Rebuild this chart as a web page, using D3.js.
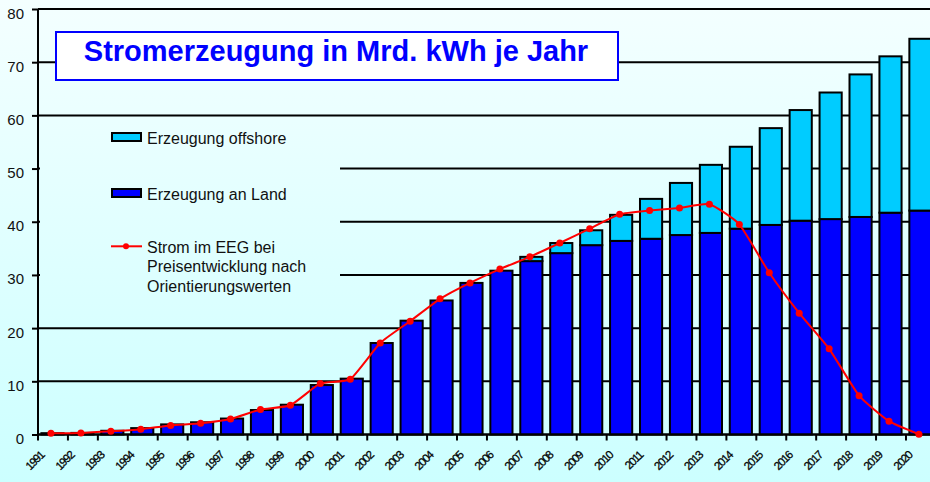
<!DOCTYPE html>
<html>
<head>
<meta charset="utf-8">
<script src="https://cdn.jsdelivr.net/npm/d3@7"></script>
<style>
  html, body { margin: 0; padding: 0; }
  svg { display: block; }
  text { font-family: "Liberation Sans", Arial, sans-serif; }
</style>
</head>
<body>
<svg id="chart" width="930" height="482"></svg>
<script>
// ---- data ----
const years = ["1991","1992","1993","1994","1995","1996","1997","1998","1999","2000",
               "2001","2002","2003","2004","2005","2006","2007","2008","2009","2010",
               "2011","2012","2013","2014","2015","2016","2017","2018","2019","2020"];
const landValues = [0.25,0.3,0.7,1.2,1.9,2.3,3.0,4.6,5.6,9.3,
                    10.5,17.2,21.4,25.2,28.5,30.8,32.6,34.1,35.6,36.4,
                    36.8,37.5,37.9,38.7,39.4,40.2,40.5,40.9,41.7,42.1];
const offshoreValues = [0,0,0,0,0,0,0,0,0,0,
                        0,0,0,0,0,0,0.8,1.9,2.8,4.9,
                        7.5,9.8,12.8,15.4,18.2,20.8,23.8,26.8,29.4,32.3];
const eegValues = [0.25,0.3,0.6,1.0,1.7,2.1,2.9,4.7,5.5,9.6,
                   10.4,17.2,21.3,25.5,28.5,31.1,33.4,36.0,38.7,41.4,
                   42.1,42.6,43.3,39.5,30.4,22.8,16.1,7.3,2.5,0.05];
const yTicks = [0,10,20,30,40,50,60,70,80];
const titleText = "Stromerzeugung in Mrd. kWh je Jahr";
const legendOffshore = "Erzeugung offshore";
const legendLand = "Erzeugung an Land";
const legendLine = ["Strom im EEG bei", "Preisentwicklung nach", "Orientierungswerten"];

// ---- setup ----
const W = 930, H = 482;
const svg = d3.select("#chart");
const defs = svg.append("defs");
const grad = defs.append("linearGradient").attr("id","bg")
  .attr("gradientUnits","userSpaceOnUse")
  .attr("x1",0).attr("y1",0).attr("x2",0).attr("y2",H);
grad.append("stop").attr("offset","0").attr("stop-color","#f4ffff");
grad.append("stop").attr("offset","1").attr("stop-color","#ccffff");

svg.append("rect").attr("width",W).attr("height",H).attr("fill","url(#bg)");

const x0 = 38, step = 29.93;
const x = d3.scaleBand().domain(years).range([x0, x0 + step*years.length]).paddingInner(0).paddingOuter(0);
const y = d3.scaleLinear().domain([0,80]).range([434.5, 9]);
const bw = x.bandwidth();
const barW = bw * 0.74;

// gridlines
svg.append("g").selectAll("line").data(yTicks).join("line")
  .attr("x1", x0).attr("x2", W)
  .attr("y1", d => y(d)).attr("y2", d => y(d))
  .attr("stroke","#000").attr("stroke-width",2);

// y axis
const yAxis = d3.axisLeft(y).tickValues(yTicks).tickSize(6).tickPadding(8).tickFormat(d3.format("d"));
const gy = svg.append("g").attr("transform",`translate(${x0},0)`).call(yAxis);
gy.select(".domain").remove();
gy.selectAll(".tick line").attr("stroke","#000").attr("stroke-width",2);
gy.selectAll(".tick text").attr("font-size",15).attr("fill","#111")
  .attr("font-family","'Liberation Sans', Arial, sans-serif").attr("dy","0.6em");
svg.append("line").attr("x1",x0).attr("x2",x0).attr("y1",y(80)).attr("y2",y(0)+1)
  .attr("stroke","#000").attr("stroke-width",2);

// title box
svg.append("rect").attr("x",56).attr("y",32).attr("width",562).attr("height",48)
  .attr("fill","#fff").attr("stroke","#0000ff").attr("stroke-width",2);
svg.append("text").attr("x",336).attr("y",61).attr("text-anchor","middle")
  .attr("font-size",29).attr("font-weight","bold").attr("fill","#0000ff").text(titleText);

// legend box (covers gridlines)
svg.append("rect").attr("x",40).attr("y",117).attr("width",300).attr("height",195)
  .attr("fill","url(#bg)");

// bars
const barsG = svg.append("g");
barsG.selectAll("rect.land").data(years).join("rect").attr("class","land")
  .attr("x", d => x(d) + (bw - barW)/2 - 0.5)
  .attr("width", barW)
  .attr("y", (d,i) => y(landValues[i]))
  .attr("height", (d,i) => y(0) - y(landValues[i]))
  .attr("fill","#0000ff").attr("stroke","#000").attr("stroke-width",2);
barsG.selectAll("rect.off").data(years.filter((d,i)=>offshoreValues[i]>0)).join("rect").attr("class","off")
  .attr("x", d => x(d) + (bw - barW)/2 - 0.5)
  .attr("width", barW)
  .attr("y", d => { const i = years.indexOf(d); return y(landValues[i] + offshoreValues[i]); })
  .attr("height", d => { const i = years.indexOf(d); return y(landValues[i]) - y(landValues[i] + offshoreValues[i]); })
  .attr("fill","#00ccff").attr("stroke","#000").attr("stroke-width",2);

// zero line over bars
svg.append("line").attr("x1",x0).attr("x2",W).attr("y1",y(0)).attr("y2",y(0))
  .attr("stroke","#000").attr("stroke-width",2);

// x ticks at category boundaries
const boundaries = years.map(d => x(d)).concat([x(years[years.length-1]) + bw]);
svg.append("g").selectAll("line").data(boundaries).join("line")
  .attr("x1", d => d).attr("x2", d => d)
  .attr("y1", y(0)).attr("y2", y(0) + 6)
  .attr("stroke","#000").attr("stroke-width",2);

// x labels
svg.append("g").selectAll("text").data(years).join("text")
  .attr("transform", d => `translate(${x(d) + bw/2 - 8},456) rotate(-45)`)
  .attr("text-anchor","end")
  .style("font-size","11.5px").style("letter-spacing","-1.2px")
  .attr("fill","#000").attr("stroke","#000").attr("stroke-width",0.25)
  .text(d => d);

// EEG line
const lx = d => x(d) + bw/2 - 2;
const line = d3.line().x((d,i) => lx(years[i])).y(d => y(d)).curve(d3.curveCardinal.tension(0.5));
svg.append("path").datum(eegValues).attr("d", line)
  .attr("fill","none").attr("stroke","#ff0000").attr("stroke-width",2);
svg.append("g").selectAll("circle").data(eegValues).join("circle")
  .attr("cx", (d,i) => lx(years[i])).attr("cy", d => y(d)).attr("r",3.5).attr("fill","#ff0000");

// legend
const lg = svg.append("g");
lg.append("rect").attr("x",112).attr("y",133).attr("width",29).attr("height",8)
  .attr("fill","#00ccff").attr("stroke","#000").attr("stroke-width",2);
lg.append("text").attr("x",147).attr("y",143.5).attr("font-size",16).attr("fill","#111").text(legendOffshore);
lg.append("rect").attr("x",112).attr("y",189).attr("width",29).attr("height",8)
  .attr("fill","#0000ff").attr("stroke","#000").attr("stroke-width",2);
lg.append("text").attr("x",147).attr("y",199.5).attr("font-size",16).attr("fill","#111").text(legendLand);
lg.append("line").attr("x1",111).attr("x2",142).attr("y1",246.3).attr("y2",246.3)
  .attr("stroke","#ff0000").attr("stroke-width",2);
lg.append("circle").attr("cx",126).attr("cy",246.3).attr("r",3).attr("fill","#ff0000");
lg.append("text").attr("font-size",16).attr("fill","#111").selectAll("tspan").data(legendLine).join("tspan")
  .attr("x",147).attr("y",(d,i) => 252.7 + i*19.5).text(d => d);
</script>
</body>
</html>
